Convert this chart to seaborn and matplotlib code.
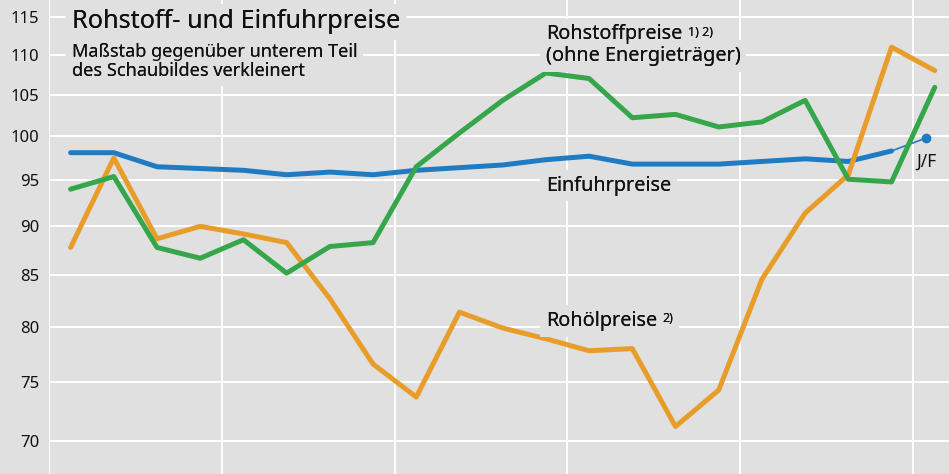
import numpy as np
import pandas as pd
import seaborn as sns
import matplotlib.pyplot as plt
import matplotlib.ticker as mticker
from matplotlib.transforms import blended_transform_factory

# values (index = period, 21 periods)
perioden = list(range(21))
einfuhr = [98.1, 98.1, 96.5, 96.3, 96.1, 95.6, 95.9, 95.6, 96.1, 96.4,
           96.7, 97.3, 97.7, 96.8, 96.8, 96.8, 97.1, 97.4, 97.1, 98.3]
rohoel = [87.8, 97.5, 88.7, 90.0, 89.2, 88.3, 82.7, 76.6, 73.7, 81.4,
          79.9, 78.9, 77.8, 78.0, 71.2, 74.3, 84.6, 91.4, 95.6, 111.0, 108.0]
rohstoff = [94.0, 95.4, 87.8, 86.7, 88.6, 85.2, 87.9, 88.3, 96.5, 100.4,
            104.3, 107.7, 107.0, 102.2, 102.6, 101.1, 101.7, 104.3, 95.1, 94.8, 105.9]
jf_x = 19.8
jf_wert = 99.8
yticks = [70, 75, 80, 85, 90, 95, 100, 105, 110, 115]

bg = '#e0e0e0'
farben = {'Einfuhrpreise': '#1f7cc2', 'Rohölpreise': '#e89d2b', 'Rohstoffpreise': '#36a64a'}

sns.set_theme(style='darkgrid', rc={'axes.facecolor': bg, 'figure.facecolor': bg,
                                    'grid.color': 'white', 'grid.linewidth': 1.4})
plt.rcParams['font.family'] = ['Noto Sans', 'DejaVu Sans']

df = pd.concat([
    pd.DataFrame({'idx': perioden[:len(einfuhr)], 'wert': einfuhr, 'reihe': 'Einfuhrpreise'}),
    pd.DataFrame({'idx': perioden, 'wert': rohoel, 'reihe': 'Rohölpreise'}),
    pd.DataFrame({'idx': perioden, 'wert': rohstoff, 'reihe': 'Rohstoffpreise'}),
])

fig = plt.figure(figsize=(9.49, 4.74), dpi=100)
ax = fig.add_axes([49 / 949, 0, 1 - 49 / 949, 1])

# thin connector to the J/F value
ax.plot([perioden[len(einfuhr) - 1], jf_x], [einfuhr[-1], jf_wert],
        color=farben['Einfuhrpreise'], lw=1.2, zorder=2)
ax.plot([jf_x], [jf_wert], 'o', color=farben['Einfuhrpreise'], ms=6, zorder=2)

sns.lineplot(data=df, x='idx', y='wert', hue='reihe', palette=farben,
             hue_order=['Einfuhrpreise', 'Rohölpreise', 'Rohstoffpreise'],
             linewidth=3.6, legend=False, ax=ax, zorder=3)

ax.set_yscale('log')
ax.set_ylim(67.35, 117.3)
ax.set_xlim(-0.5, 20.33)
ax.yaxis.set_major_locator(mticker.FixedLocator(yticks))
ax.yaxis.set_major_formatter(mticker.FixedFormatter([str(t) for t in yticks]))
ax.yaxis.set_minor_locator(mticker.NullLocator())
ax.set_xticks(np.arange(-0.5, 20, 4))
ax.set_xticklabels([])
ax.tick_params(axis='both', length=0, labelsize=12, colors='#111111', pad=7)
ax.grid(True, which='major')
ax.set_xlabel('')
ax.set_ylabel('')
for s in ax.spines.values():
    s.set_visible(False)

tr = blended_transform_factory(ax.transData, ax.transAxes)
box = dict(facecolor=bg, edgecolor='none', pad=4)


def py(p):
    return 1 - p / 474


def label(x, ybase, txt, size, sup=None):
    kw = dict(transform=tr, fontsize=size, va='baseline', ha='left', color='#111111')
    # background box underneath, text on top so stacked boxes do not clip letters
    ax.text(x, py(ybase), txt, bbox=box, zorder=4, **kw)
    t = ax.text(x, py(ybase), txt, zorder=6, **kw)
    if sup:
        skw = dict(xy=(1, 1), xycoords=t, xytext=(4, -1), textcoords='offset points',
                   fontsize=9, fontweight='bold', va='top', ha='left', color='#111111')
        ax.annotate(sup, bbox=box, zorder=4, **skw)
        ax.annotate(sup, zorder=6, **skw)
    return t


label(0.03, 28.5, 'Rohstoff- und Einfuhrpreise', 18.2)
label(0.03, 56.7, 'Maßstab gegenüber unterem Teil', 13)
label(0.03, 76, 'des Schaubildes verkleinert', 13)
label(11.0, 39.3, 'Rohstoffpreise', 14.3, sup='1) 2)')
label(11.0, 61, '(ohne Energieträger)', 14.3)
label(11.0, 190.7, 'Einfuhrpreise', 14.3)
label(11.0, 326, 'Rohölpreise', 14.3, sup='2)')
ax.text(19.8, py(166.5), 'J/F', transform=tr, fontsize=12.5, ha='center',
        va='baseline', color='#111111', zorder=6)

fig.savefig('out.png', dpi=100, facecolor=bg)
